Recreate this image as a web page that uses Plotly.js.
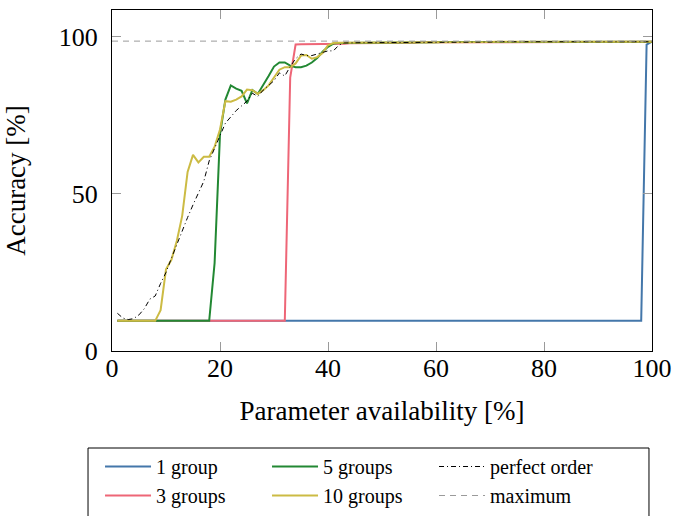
<!DOCTYPE html>
<html>
<head>
<meta charset="utf-8">
<script src="https://cdn.plot.ly/plotly-3.0.1.min.js"></script>
<style>
  html, body { margin: 0; padding: 0; background: #ffffff; }
  #chart { width: 674px; height: 516px; }
</style>
</head>
<body>
<div id="chart"></div>
<script>
// Parameter availability [%]
var availability = [
  1,2,3,4,5,6,7,8,9,10,
  11,12,13,14,15,16,17,18,19,20,
  21,22,23,24,25,26,27,28,29,30,
  31,32,33,34,35,36,37,38,39,40,
  41,42,43,44,45,46,47,48,49,50,
  51,52,53,54,55,56,57,58,59,60,
  61,62,63,64,65,66,67,68,69,70,
  71,72,73,74,75,76,77,78,79,80,
  81,82,83,84,85,86,87,88,89,90,
  91,92,93,94,95,96,97,98,99,100
];

// Accuracy [%] per series
var group1 = [
  9.6,9.6,9.6,9.6,9.6,9.6,9.6,9.6,9.6,9.6,
  9.6,9.6,9.6,9.6,9.6,9.6,9.6,9.6,9.6,9.6,
  9.6,9.6,9.6,9.6,9.6,9.6,9.6,9.6,9.6,9.6,
  9.6,9.6,9.6,9.6,9.6,9.6,9.6,9.6,9.6,9.6,
  9.6,9.6,9.6,9.6,9.6,9.6,9.6,9.6,9.6,9.6,
  9.6,9.6,9.6,9.6,9.6,9.6,9.6,9.6,9.6,9.6,
  9.6,9.6,9.6,9.6,9.6,9.6,9.6,9.6,9.6,9.6,
  9.6,9.6,9.6,9.6,9.6,9.6,9.6,9.6,9.6,9.6,
  9.6,9.6,9.6,9.6,9.6,9.6,9.6,9.6,9.6,9.6,
  9.6,9.6,9.6,9.6,9.6,9.6,9.6,9.6,97.5,98.4
];

var groups3 = [
  9.6,9.6,9.6,9.6,9.6,9.6,9.6,9.6,9.6,9.6,
  9.6,9.6,9.6,9.6,9.6,9.6,9.6,9.6,9.6,9.6,
  9.6,9.6,9.6,9.6,9.6,9.6,9.6,9.6,9.6,9.6,
  9.6,9.6,87,97.5,97.6,97.6,97.7,97.7,97.8,97.8,
  97.8,97.8,97.8,97.9,97.9,97.9,97.9,97.9,97.9,97.9,
  97.9,97.9,97.9,98.0,98.1,98.1,98.2,98.2,98.2,98.3,
  98.3,98.3,98.3,98.3,98.3,98.3,98.3,98.3,98.3,98.3,
  98.4,98.4,98.4,98.4,98.4,98.4,98.4,98.4,98.4,98.4,
  98.4,98.4,98.4,98.4,98.4,98.4,98.4,98.4,98.4,98.4,
  98.4,98.4,98.4,98.4,98.4,98.4,98.4,98.4,98.4,98.4
];

var groups5 = [
  9.6,9.6,9.6,9.6,9.6,9.6,9.6,9.6,9.6,9.6,
  9.6,9.6,9.6,9.6,9.6,9.6,9.6,9.6,28,69,
  80,84.5,83.5,82.8,78.8,83,81.8,84.5,87.5,90.5,
  91.8,91.8,90.8,90.3,90.3,90.8,91.8,93.2,95.2,96.8,
  97.8,98.0,98.0,98.1,98.1,98.1,98.1,98.1,98.1,98.1,
  98.2,98.2,98.2,98.2,98.2,98.2,98.2,98.2,98.2,98.2,
  98.3,98.3,98.3,98.3,98.3,98.3,98.3,98.3,98.3,98.3,
  98.4,98.4,98.4,98.4,98.4,98.4,98.4,98.4,98.4,98.4,
  98.4,98.4,98.4,98.4,98.4,98.4,98.4,98.4,98.4,98.4,
  98.4,98.4,98.4,98.4,98.4,98.4,98.4,98.4,98.4,98.4
];

var groups10 = [
  9.6,9.6,9.6,9.6,9.6,9.6,9.6,9.6,13,26,
  29,35,43,57,62.4,60,61.8,61.8,65,70.5,
  79.5,79.3,80,81,83.2,83,81.8,83,84.5,87,
  89.5,90.3,90.3,91.5,94,94.2,93,93.5,94.8,97.3,
  98.0,98.1,98.1,98.1,98.1,98.1,98.1,98.1,98.1,98.1,
  98.2,98.2,98.2,98.2,98.2,98.2,98.2,98.2,98.2,98.2,
  98.3,98.3,98.3,98.3,98.3,98.3,98.3,98.3,98.3,98.3,
  98.4,98.4,98.4,98.4,98.4,98.4,98.4,98.4,98.4,98.4,
  98.4,98.4,98.4,98.4,98.4,98.4,98.4,98.4,98.4,98.4,
  98.4,98.4,98.4,98.4,98.4,98.4,98.4,98.4,98.4,98.4
];

var perfectOrder = [
  12,10.5,10,10.3,11.5,13.5,16.5,17.5,21.5,25,
  29.5,34,38.5,42.5,46.5,50,54,60.5,64.5,68.5,
  72.5,74.5,76.5,78,79.5,82,81,83,84.5,86,
  88.5,87.5,90.5,93,94.5,94,94,94.5,95,95.5,
  95.5,97.3,98.0,98.1,98.1,98.1,98.1,98.1,98.1,98.1,
  98.2,98.2,98.2,98.2,98.2,98.2,98.2,98.2,98.2,98.2,
  98.3,98.3,98.3,98.3,98.3,98.3,98.3,98.3,98.3,98.3,
  98.4,98.4,98.4,98.4,98.4,98.4,98.4,98.4,98.4,98.4,
  98.4,98.4,98.4,98.4,98.4,98.4,98.4,98.4,98.4,98.4,
  98.4,98.4,98.4,98.4,98.4,98.4,98.4,98.4,98.4,98.4
];

var maximumX = [0, 100];
var maximumY = [98.6, 98.6];

var seriesNames = ['1 group', '3 groups', '5 groups', '10 groups', 'perfect order', 'maximum'];
var xTicks = [0, 20, 40, 60, 80, 100];
var yTicks = [0, 50, 100];

var FONT = 'Liberation Serif, Times New Roman, serif';

var traces = [
  { x: availability, y: group1, name: seriesNames[0], type: 'scatter', mode: 'lines',
    line: { color: '#4477AA', width: 2 }, legendrank: 1 },
  { x: availability, y: groups3, name: seriesNames[1], type: 'scatter', mode: 'lines',
    line: { color: '#EE6677', width: 2 }, legendrank: 4 },
  { x: availability, y: groups5, name: seriesNames[2], type: 'scatter', mode: 'lines',
    line: { color: '#228833', width: 2 }, legendrank: 2 },
  { x: availability, y: groups10, name: seriesNames[3], type: 'scatter', mode: 'lines',
    line: { color: '#CCBB44', width: 2 }, legendrank: 5 },
  { x: availability, y: perfectOrder, name: seriesNames[4], type: 'scatter', mode: 'lines',
    line: { color: '#000000', width: 1, dash: '5px,3px,1px,3px' }, legendrank: 3 },
  { x: maximumX, y: maximumY, name: seriesNames[5], type: 'scatter', mode: 'lines',
    line: { color: '#9a9a9a', width: 1, dash: '6px,5px' }, legendrank: 6 }
];

var layout = {
  width: 674,
  height: 516,
  margin: { l: 112, r: 22, t: 10, b: 165, autoexpand: false },
  paper_bgcolor: '#ffffff',
  plot_bgcolor: '#ffffff',
  font: { family: FONT, color: '#000000', size: 25 },
  showlegend: true,
  xaxis: {
    range: [0, 100],
    tickvals: xTicks,
    ticktext: xTicks.map(String),
    ticks: 'inside',
    ticklen: 9,
    tickwidth: 1,
    tickcolor: '#9a9a9a',
    showline: true,
    linecolor: '#000000',
    linewidth: 1,
    mirror: 'ticks',
    showgrid: false,
    zeroline: false,
    tickfont: { family: FONT, size: 26, color: '#000000' },
    ticklabelstandoff: -6,
    title: { text: 'Parameter availability [%]', font: { family: FONT, size: 27, color: '#000000' }, standoff: 18 }
  },
  yaxis: {
    range: [0, 108.5],
    tickvals: yTicks,
    ticktext: yTicks.map(String),
    ticks: 'inside',
    ticklen: 9,
    tickwidth: 1,
    tickcolor: '#9a9a9a',
    showline: true,
    linecolor: '#000000',
    linewidth: 1,
    mirror: 'ticks',
    showgrid: false,
    zeroline: false,
    tickfont: { family: FONT, size: 26, color: '#000000' },
    ticklabelstandoff: 8,
    title: { text: 'Accuracy [%]', font: { family: FONT, size: 27, color: '#000000' }, standoff: 25 }
  },
  legend: {
    orientation: 'h',
    xref: 'container',
    yref: 'container',
    x: 0.1484,
    xanchor: 'left',
    y: 0.1337,
    yanchor: 'top',
    entrywidth: 106,
    entrywidthmode: 'pixels',
    itemwidth: 46,
    bgcolor: 'rgba(0,0,0,0)',
    borderwidth: 0,
    font: { family: FONT, size: 20, color: '#000000' },
    traceorder: 'normal'
  },
  shapes: [
    { type: 'rect', xref: 'paper', yref: 'paper',
      x0: -0.0444, x1: 0.9944, y0: -0.2845, y1: -0.56,
      line: { color: '#000000', width: 1 }, fillcolor: 'rgba(0,0,0,0)', layer: 'below' }
  ]
};

Plotly.newPlot('chart', traces, layout, { displayModeBar: false, staticPlot: true });
</script>
</body>
</html>
